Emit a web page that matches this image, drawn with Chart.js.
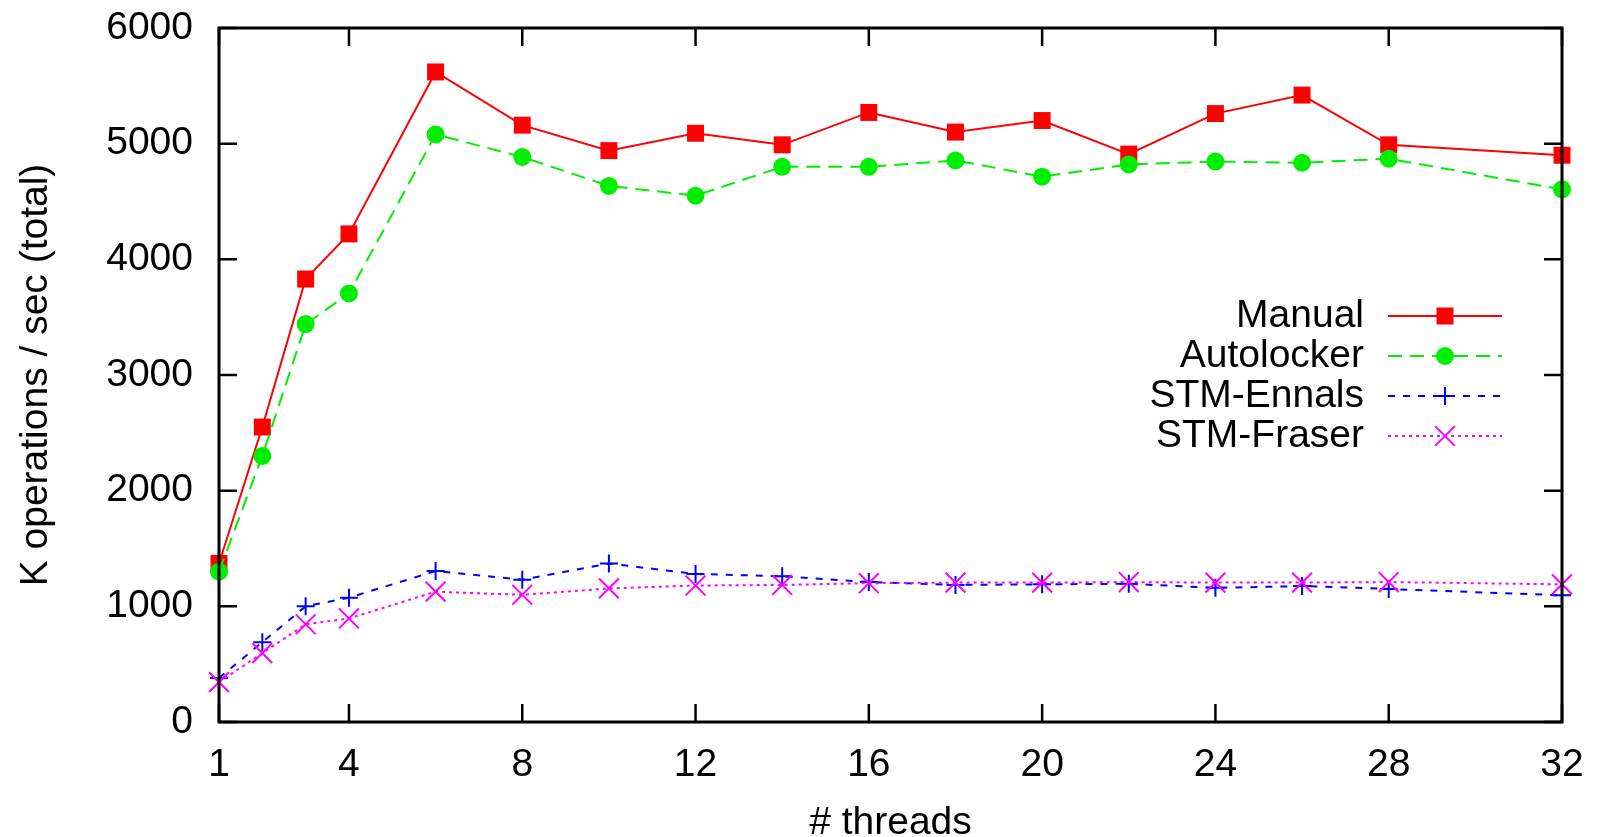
<!DOCTYPE html>
<html><head><meta charset="utf-8">
<script src="https://cdn.jsdelivr.net/npm/chart.js@4.4.1/dist/chart.umd.min.js"></script>
<style>html,body{margin:0;padding:0;background:#fff;overflow:hidden}#wrap{width:1600px;height:837px;position:relative}</style>
</head><body><div id="wrap"><canvas id="c" width="1600" height="837"></canvas></div>
<script>
const threads = [1, 2, 3, 4, 6, 8, 10, 12, 14, 16, 18, 20, 22, 24, 26, 28, 32];
const manual = [1370, 2550, 3830, 4220, 5620, 5160, 4940, 5090, 4990, 5270, 5100, 5200, 4910, 5260, 5420, 4990, 4900];
const autolocker = [1300, 2300, 3440, 3705, 5080, 4885, 4635, 4550, 4800, 4800, 4855, 4715, 4820, 4845, 4835, 4870, 4605];
const stmEnnals = [380, 690, 1000, 1075, 1305, 1230, 1370, 1280, 1260, 1210, 1185, 1190, 1195, 1160, 1175, 1150, 1095];
const stmFraser = [345, 595, 845, 895, 1127, 1100, 1155, 1180, 1185, 1200, 1205, 1205, 1210, 1205, 1205, 1210, 1190];
const xTickValues = [1, 4, 8, 12, 16, 20, 24, 28, 32];
const yTickValues = [0, 1000, 2000, 3000, 4000, 5000, 6000];
const seriesNames = ['Manual', 'Autolocker', 'STM-Ennals', 'STM-Fraser'];
const xTitle = '# threads';
const yTitle = 'K operations / sec (total)';

const FONT = "'Liberation Sans', Arial, Helvetica, sans-serif";
const pts = arr => threads.map((t, i) => ({x: t, y: arr[i]}));

const framePlugin = {
  id: 'frame',
  afterDatasetsDraw(chart) {
    const {ctx, chartArea: {left, right, top, bottom}, scales: {x, y}} = chart;
    ctx.save();
    ctx.setLineDash([]);
    ctx.strokeStyle = '#000';
    ctx.lineWidth = 2.5;
    const L = 18;
    ctx.beginPath();
    x.ticks.forEach(t => {
      const px = x.getPixelForValue(t.value);
      ctx.moveTo(px, bottom); ctx.lineTo(px, bottom - L);
      ctx.moveTo(px, top); ctx.lineTo(px, top + L);
    });
    y.ticks.forEach(t => {
      const py = y.getPixelForValue(t.value);
      ctx.moveTo(left, py); ctx.lineTo(left + L, py);
      ctx.moveTo(right, py); ctx.lineTo(right - L, py);
    });
    ctx.stroke();
    ctx.lineWidth = 3;
    ctx.strokeRect(left, top, right - left, bottom - top);
    ctx.restore();
  }
};

const legendPlugin = {
  id: 'gpLegend',
  afterDraw(chart) {
    const {ctx} = chart;
    const textRight = 1364, lineL = 1388, lineR = 1502, markX = 1445, y0 = 316, dy = 40;
    ctx.save();
    chart.data.datasets.forEach((ds, i) => {
      const yy = y0 + i * dy;
      ctx.font = '39px ' + FONT;
      ctx.fillStyle = '#000';
      ctx.textAlign = 'right';
      ctx.textBaseline = 'middle';
      ctx.fillText(ds.label, textRight, yy);
      ctx.strokeStyle = ds.borderColor;
      ctx.lineWidth = ds.borderWidth;
      ctx.setLineDash(ds.borderDash || []);
      ctx.beginPath(); ctx.moveTo(lineL, yy); ctx.lineTo(lineR, yy); ctx.stroke();
      ctx.setLineDash([]);
      ctx.fillStyle = ds.pointBackgroundColor;
      ctx.strokeStyle = ds.pointBorderColor;
      ctx.lineWidth = ds.pointBorderWidth;
      Chart.helpers.drawPoint(ctx, {pointStyle: ds.pointStyle, radius: ds.pointRadius, rotation: 0, borderWidth: ds.pointBorderWidth}, markX, yy);
    });
    ctx.restore();
  }
};

const colors = ['#ff0000', '#00ee00', '#0000ff', '#ff00ff'];
const dashes = [[], [14, 8], [7, 8], [3, 4]];
const styles = ['rect', 'circle', 'cross', 'crossRot'];
const radii = [12, 9, 9, 14];
const pbw = [0, 0, 2, 2];
const allData = [manual, autolocker, stmEnnals, stmFraser];

const datasets = allData.map((d, i) => ({
  label: seriesNames[i],
  data: pts(d),
  borderColor: colors[i],
  backgroundColor: colors[i],
  pointBackgroundColor: colors[i],
  pointBorderColor: colors[i],
  borderWidth: 2,
  borderDash: dashes[i],
  pointStyle: styles[i],
  pointRadius: radii[i],
  pointHoverRadius: radii[i],
  pointBorderWidth: pbw[i],
  tension: 0,
  clip: false,
  order: 4 - i
}));

new Chart(document.getElementById('c'), {
  type: 'line',
  data: {datasets},
  options: {
    responsive: false,
    devicePixelRatio: 1,
    animation: false,
    events: [],
    layout: {autoPadding: false, padding: {left: 0, right: 38, top: 28, bottom: 0}},
    plugins: {legend: {display: false}, tooltip: {enabled: false}},
    scales: {
      x: {
        type: 'linear', min: 1, max: 32,
        grid: {display: false, drawTicks: false},
        border: {display: false},
        afterBuildTicks: s => { s.ticks = xTickValues.map(v => ({value: v})); },
        afterFit: s => { s.height = 115; s.paddingLeft = 0; s.paddingRight = 0; },
        ticks: {font: {family: FONT, size: 39}, color: '#000', padding: 20, maxRotation: 0, autoSkip: false, callback: v => String(v)},
        title: {display: true, text: xTitle, font: {family: FONT, size: 39, lineHeight: 0.8}, color: '#000', padding: {top: 0, bottom: -2}}
      },
      y: {
        type: 'linear', min: 0, max: 6000,
        grid: {display: false, drawTicks: false},
        border: {display: false},
        afterBuildTicks: s => { s.ticks = yTickValues.map(v => ({value: v})); },
        afterFit: s => { s.width = 219; s.paddingTop = 0; s.paddingBottom = 0; },
        ticks: {font: {family: FONT, size: 39}, color: '#000', padding: 26, callback: v => String(v)},
        title: {display: true, text: yTitle, font: {family: FONT, size: 39, lineHeight: 1.2}, color: '#000', padding: {top: 13, bottom: 0}}
      }
    }
  },
  plugins: [framePlugin, legendPlugin]
});
</script></body></html>
